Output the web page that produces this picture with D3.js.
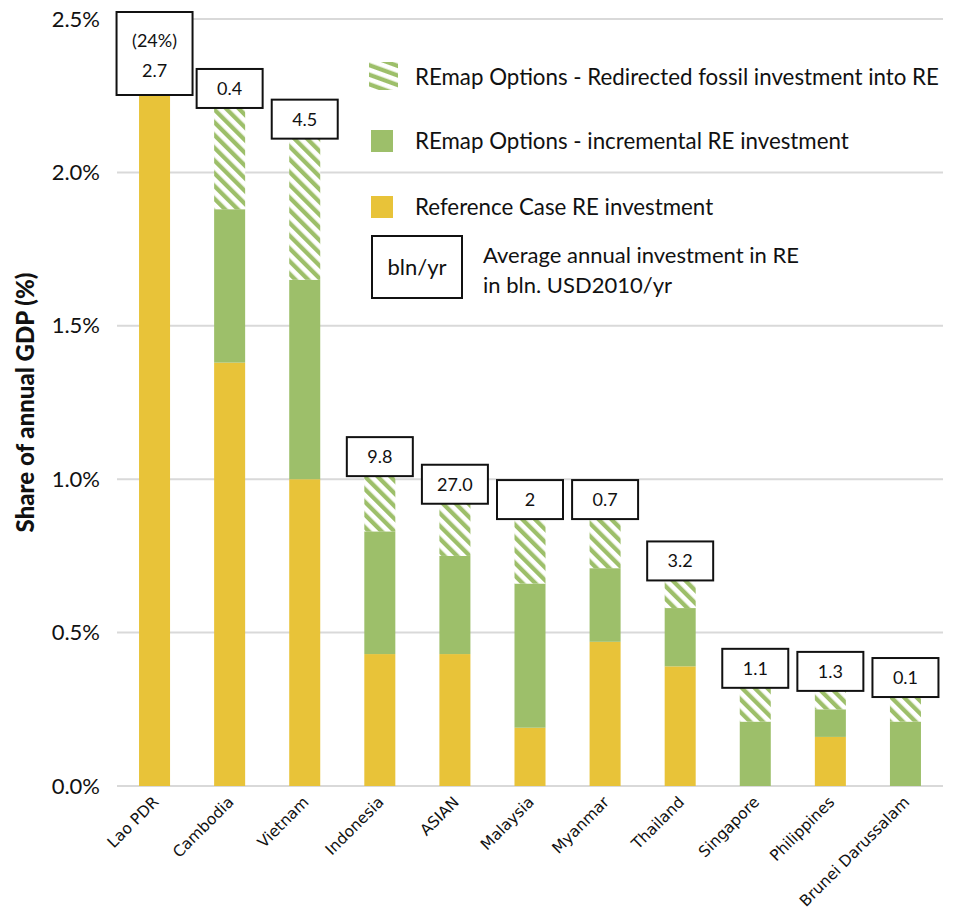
<!DOCTYPE html>
<html><head><meta charset="utf-8">
<script src="https://cdn.jsdelivr.net/npm/d3@7"></script>
<style>body{margin:0;background:#fff}</style>
</head><body>
<svg id="chart" width="953" height="911"></svg>
<script>
const categories = ["Lao PDR","Cambodia","Vietnam","Indonesia","ASIAN","Malaysia","Myanmar","Thailand","Singapore","Philippines","Brunei Darussalam"];
// share of annual GDP (%)
const referenceCase = [24.0, 1.38, 1.00, 0.43, 0.43, 0.19, 0.47, 0.39, 0.00, 0.16, 0.00];
const incrementalRE = [0.00, 0.50, 0.65, 0.40, 0.32, 0.47, 0.24, 0.19, 0.21, 0.09, 0.21];
const redirectedFossil = [0.00, 0.33, 0.46, 0.18, 0.17, 0.21, 0.16, 0.09, 0.11, 0.06, 0.08];
const investmentLabels = ["2.7","0.4","4.5","9.8","27.0","2","0.7","3.2","1.1","1.3","0.1"];
const extraLabels = ["(24%)","","","","","","","","","",""];
const yTicks = [0, 0.5, 1.0, 1.5, 2.0, 2.5];
const legendItems = [
  {key:"redirected", label:"REmap Options - Redirected fossil investment into RE"},
  {key:"incremental", label:"REmap Options - incremental RE investment"},
  {key:"reference", label:"Reference Case RE investment"}
];

const YELLOW = "#e8c339", GREEN = "#9dbf6a", GRID = "#d9d9d9";
const FONT = "Lato, 'Open Sans', sans-serif";

const svg = d3.select("#chart");
const m = {left:117, right:10, top:19, bottom:125};
const W = 953, H = 911;

const defs = svg.append("defs");
const pat = defs.append("pattern").attr("id","hatch").attr("patternUnits","userSpaceOnUse")
  .attr("width",9).attr("height",9).attr("patternTransform","rotate(-45)");
pat.append("rect").attr("width",9).attr("height",9).attr("fill","#fff");
pat.append("rect").attr("x",0).attr("y",0).attr("width",4.3).attr("height",9).attr("fill",GREEN);

const pat2 = defs.append("pattern").attr("id","hatchLeg").attr("patternUnits","userSpaceOnUse")
  .attr("width",9).attr("height",9).attr("patternTransform","rotate(-70)");
pat2.append("rect").attr("width",9).attr("height",9).attr("fill","#fff");
pat2.append("rect").attr("x",0).attr("y",0).attr("width",4.3).attr("height",9).attr("fill",GREEN);

defs.append("clipPath").attr("id","plotclip").append("rect")
  .attr("x",m.left).attr("y",m.top).attr("width",W-m.left-m.right).attr("height",H-m.top-m.bottom);

const x = d3.scaleBand().domain(categories).range([m.left, W-m.right]).paddingInner(0.587).paddingOuter(0.2935);
const y = d3.scaleLinear().domain([0,2.5]).range([H-m.bottom, m.top]);

// grid
svg.append("g").selectAll("line").data(yTicks).join("line")
  .attr("x1",m.left).attr("x2",W-m.right)
  .attr("y1",d=>y(d)).attr("y2",d=>y(d))
  .attr("stroke",GRID).attr("stroke-width",2);

// y axis labels
const yAxis = d3.axisLeft(y).tickValues(yTicks).tickFormat(d=>d3.format(".1f")(d)+"%").tickSize(0).tickPadding(17);
const yg = svg.append("g").attr("transform",`translate(${m.left},0)`).call(yAxis);
yg.select(".domain").remove();
yg.selectAll("text").attr("font-family",FONT).attr("font-size",22).attr("fill","#111");

svg.append("text").attr("transform",`translate(34,${(y(0)+y(2.5))/2}) rotate(-90)`)
  .attr("text-anchor","middle").attr("font-family",FONT).attr("font-weight",900).attr("font-size",24)
  .attr("fill","#111").text("Share of annual GDP (%)");

// stack
const rows = categories.map((c,i)=>({cat:c, reference:referenceCase[i], incremental:incrementalRE[i], redirected:redirectedFossil[i]}));
const stack = d3.stack().keys(["reference","incremental","redirected"]);
const series = stack(rows);
const fills = {reference:YELLOW, incremental:GREEN, redirected:"url(#hatch)"};

const bars = svg.append("g").attr("clip-path","url(#plotclip)");
series.forEach(s=>{
  bars.append("g").attr("fill",fills[s.key]).selectAll("rect").data(s).join("rect")
    .attr("x",d=>x(d.data.cat)).attr("width",x.bandwidth())
    .attr("y",d=>y(d[1])).attr("height",d=>Math.max(0,y(d[0])-y(d[1])));
});

// x labels
svg.append("g").selectAll("text").data(categories).join("text")
  .attr("transform",d=>`translate(${x(d)+x.bandwidth()/2+5},${y(0)+17}) rotate(-45)`)
  .attr("text-anchor","end").attr("font-family","'DejaVu Sans', sans-serif").attr("font-size",15.5)
  .attr("fill","#111").text(d=>d);

// value boxes
const lab = svg.append("g");
rows.forEach((r,i)=>{
  const total = r.reference + r.incremental + r.redirected;
  const cx = x(r.cat) + x.bandwidth()/2;
  if (total > y.domain()[1]) {
    const bw = 76, top = 12, bh = 83;
    lab.append("rect").attr("x",cx-bw/2).attr("y",top).attr("width",bw).attr("height",bh)
      .attr("fill","#fff").attr("stroke","#111").attr("stroke-width",2);
    lab.append("text").attr("x",cx).attr("y",top+35).attr("text-anchor","middle")
      .attr("font-family",FONT).attr("font-size",18).attr("fill","#111").text(extraLabels[i]);
    lab.append("text").attr("x",cx).attr("y",top+65).attr("text-anchor","middle")
      .attr("font-family",FONT).attr("font-size",18).attr("fill","#111").text(investmentLabels[i]);
  } else {
    const bw = 66, bh = 39, bottom = y(total);
    lab.append("rect").attr("x",cx-bw/2).attr("y",bottom-bh).attr("width",bw).attr("height",bh)
      .attr("fill","#fff").attr("stroke","#111").attr("stroke-width",2);
    lab.append("text").attr("x",cx).attr("y",bottom-bh/2+6.5).attr("text-anchor","middle")
      .attr("font-family",FONT).attr("font-size",18).attr("fill","#111").text(investmentLabels[i]);
  }
});

// legend
const lg = svg.append("g");
const legY = [77, 141, 207];
legendItems.forEach((it,i)=>{
  if (it.key==="redirected") {
    lg.append("rect").attr("x",369).attr("y",legY[i]-15).attr("width",29).attr("height",28).attr("fill","url(#hatchLeg)");
  } else {
    lg.append("rect").attr("x",371).attr("y",legY[i]-11).attr("width",22).attr("height",22).attr("fill",fills[it.key]);
  }
  lg.append("text").attr("x",415).attr("y",legY[i]+8).attr("font-family",FONT).attr("font-size",22.3)
    .attr("fill","#111").text(it.label);
});
lg.append("rect").attr("x",372).attr("y",236).attr("width",90).attr("height",62)
  .attr("fill","#fff").attr("stroke","#111").attr("stroke-width",2);
lg.append("text").attr("x",417).attr("y",275).attr("text-anchor","middle").attr("font-family",FONT)
  .attr("font-size",22).attr("fill","#111").text("bln/yr");
lg.append("text").attr("x",483).attr("y",263).attr("font-family",FONT).attr("font-size",22).attr("fill","#111").text("Average annual investment in RE");
lg.append("text").attr("x",483).attr("y",293).attr("font-family",FONT).attr("font-size",22).attr("fill","#111").text("in bln. USD2010/yr");
</script>
</body></html>
